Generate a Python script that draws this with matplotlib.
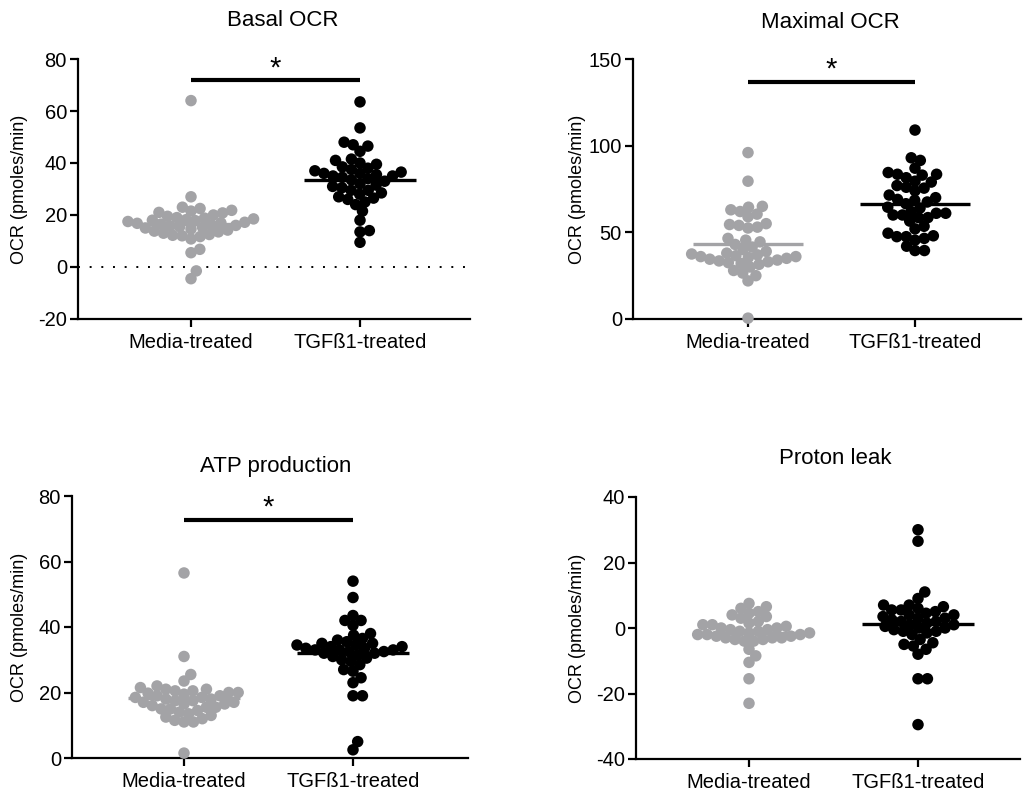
import numpy as np
import matplotlib.pyplot as plt

plt.rcParams['font.family'] = ['Liberation Sans', 'DejaVu Sans']
plt.rcParams['axes.unicode_minus'] = False

# group labels
groups = ['Media-treated', 'TGFß1-treated']
grey = '#a3a3a6'

# values (OCR, pmoles/min)
media_basal = [64, 27, 23, 22.5, 21.8, 21.5, 21, 20.8, 20, 19.5, 19, 18.8, 18.5, 18.2, 18,
               17.8, 17.5, 17.2, 17, 16.8, 16.5, 16.2, 16, 15.8, 15.5, 15.2, 15, 14.6, 14.2,
               13.8, 13.5, 13, 12.5, 12.2, 12, 11.7, 10.8, 6.8, 5.5, -1.5, -4.5]
tgf_basal = [63.5, 53.5, 48, 47, 46.5, 44.5, 41.5, 41, 40, 39.5, 38.5, 38, 37.5, 37, 36.5,
             36, 36, 35.5, 35, 35, 34.5, 34, 33.5, 33, 32, 31.5, 31, 30.5, 29.5, 29.5, 28.5,
             28, 27, 26.5, 26, 25, 24, 21.5, 18, 14, 13.5, 9.5]

media_max = [96, 79.5, 65, 64.5, 63, 62, 60.5, 59, 55, 54.5, 54, 53, 52.5, 46.5, 45.5, 44.5,
             43, 41.5, 40, 39, 38, 37.5, 37, 36.5, 36, 36, 35.5, 35, 34.5, 34, 33.5, 33, 32.5,
             32, 31.5, 30, 28, 26.5, 25, 22, 0.5]
tgf_max = [109, 93, 91.5, 87, 84.5, 83.5, 83.5, 83, 81.5, 79.5, 79, 77, 76, 75.5, 74, 71.5,
           70, 69, 68.5, 67.5, 66.5, 64.5, 64, 62, 61, 61, 60, 60, 58.5, 58.5, 56.5, 53.5, 52,
           49.5, 48, 47.5, 47.5, 46.5, 45.5, 42, 39.5, 39.5]

media_atp = [56.5, 31, 25.5, 23.5, 22, 21.5, 21, 21, 20.5, 20.5, 20, 20, 19.8, 19.5, 19, 19,
             18.5, 18.5, 18, 18, 17.5, 17.5, 17, 17, 16.5, 16.5, 16, 15.5, 15.5, 15, 15, 14.5,
             14, 13.5, 13, 12.5, 12, 11.5, 11, 11, 1.5]
tgf_atp = [54, 49, 43.5, 42, 42, 40.5, 38, 37.5, 36.5, 36, 35.5, 35, 35, 34.5, 34.5, 34, 34,
           33.5, 33.5, 33, 33, 33, 32.5, 32.5, 32, 32, 31.5, 31, 30.5, 30, 29.5, 28.5, 27,
           26.5, 24.5, 23, 19, 19, 5, 2.5]

media_leak = [7.5, 6.5, 6, 5, 4.5, 4, 3.5, 3, 2, 1.5, 1, 1, 0.5, 0, 0, -0.5, -0.5, -1, -1,
              -1.5, -1.5, -2, -2, -2, -2.5, -2.5, -3, -3, -3, -3.5, -3.5, -4, -4, -6.5, -8.5,
              -10.5, -15.5, -23]
tgf_leak = [30, 26.5, 11, 9, 7, 7, 6.5, 6, 5.5, 5.5, 5, 4.5, 4, 4, 3.5, 3, 3, 2.5, 2, 2, 1.5,
            1, 1, 0.5, 0, 0, -0.5, -1, -1, -1.5, -2, -3.5, -4.5, -5, -5.5, -6.5, -8, -15.5,
            -15.5, -29.5]

W, H = 1024, 793
fig = plt.figure(figsize=(W / 100, H / 100), dpi=100)

panels = [
    dict(title='Basal OCR', data=(media_basal, tgf_basal), ylim=(-20, 80),
         yticks=[-20, 0, 20, 40, 60, 80], box=(78, 59, 470, 319), cats=(191, 360),
         sig=(72, 76.5), zero=True, title_xy=(283, 20), ylab_x=20),
    dict(title='Maximal OCR', data=(media_max, tgf_max), ylim=(0, 150),
         yticks=[0, 50, 100, 150], box=(633, 59, 1021, 319), cats=(748, 915),
         sig=(137, 144), zero=False, title_xy=(830, 22), ylab_x=577),
    dict(title='ATP production', data=(media_atp, tgf_atp), ylim=(0, 80),
         yticks=[0, 20, 40, 60, 80], box=(72, 496, 468, 758), cats=(184, 353),
         sig=(72.7, 76.5), zero=False, title_xy=(276, 467), ylab_x=20),
    dict(title='Proton leak', data=(media_leak, tgf_leak), ylim=(-40, 40),
         yticks=[-40, -20, 0, 20, 40], box=(636, 497, 1020, 759), cats=(749, 918),
         sig=None, zero=False, title_xy=(835, 458), ylab_x=577),
]

marker_px = 11.5


def swarm(ypix, d):
    # simple beeswarm: place points (sorted by value) as close to the centre as possible
    xs = np.zeros(len(ypix))
    placed = []
    for i in np.argsort(ypix):
        y = ypix[i]
        cands = [0.0]
        for (xj, yj) in placed:
            dy = abs(y - yj)
            if dy < d:
                dx = np.sqrt(d * d - dy * dy)
                cands += [xj + dx, xj - dx]
        cands = sorted(cands, key=abs)
        for c in cands:
            ok = all((c - xj) ** 2 + (y - yj) ** 2 >= d * d - 1e-6 for (xj, yj) in placed)
            if ok:
                xs[i] = c
                placed.append((c, y))
                break
    return xs


for p in panels:
    l, t, r, b = p['box']
    ax = fig.add_axes([l / W, 1 - b / H, (r - l) / W, (b - t) / H])
    c0, c1 = p['cats']
    step = c1 - c0
    ax.set_xlim(-(c0 - l) / step, 1 + (r - c1) / step)
    ax.set_ylim(*p['ylim'])
    ypx_per_unit = (b - t) / (p['ylim'][1] - p['ylim'][0])

    for k, (vals, col) in enumerate(zip(p['data'], [grey, 'black'])):
        vals = np.array(vals)
        offs = swarm(vals * ypx_per_unit, marker_px * 0.82)
        ax.scatter(k + offs / step, vals, s=(marker_px * 0.72) ** 2, color=col,
                   edgecolors='none', zorder=3, clip_on=False)
        ax.plot([k - 0.33, k + 0.33], [vals.mean()] * 2, color=col, lw=2.4,
                solid_capstyle='butt', zorder=4)

    if p['zero']:
        ax.axhline(0, color='black', lw=1.4, ls=(0, (1, 5)), zorder=1)
    if p['sig']:
        ax.plot([0, 1], [p['sig'][0]] * 2, color='black', lw=3, solid_capstyle='butt')
        ax.text(0.5, p['sig'][1], '*', ha='center', va='center', fontsize=21)

    for s in ['top', 'right']:
        ax.spines[s].set_visible(False)
    for s in ['left', 'bottom']:
        ax.spines[s].set_linewidth(1.6)
    ax.set_yticks(p['yticks'])
    ax.set_xticks([0, 1])
    ax.set_xticklabels(groups)
    ax.tick_params(axis='both', width=1.6, length=6, labelsize=14.5, pad=2)
    ax.tick_params(axis='x', pad=4)

    fig.text(p['title_xy'][0] / W, 1 - p['title_xy'][1] / H, p['title'],
             ha='center', va='center', fontsize=16)
    fig.text(p['ylab_x'] / W, 1 - (t + b) / 2 / H, 'OCR (pmoles/min)', rotation=90,
             ha='center', va='center', fontsize=13)

fig.savefig('out.png', dpi=100)
